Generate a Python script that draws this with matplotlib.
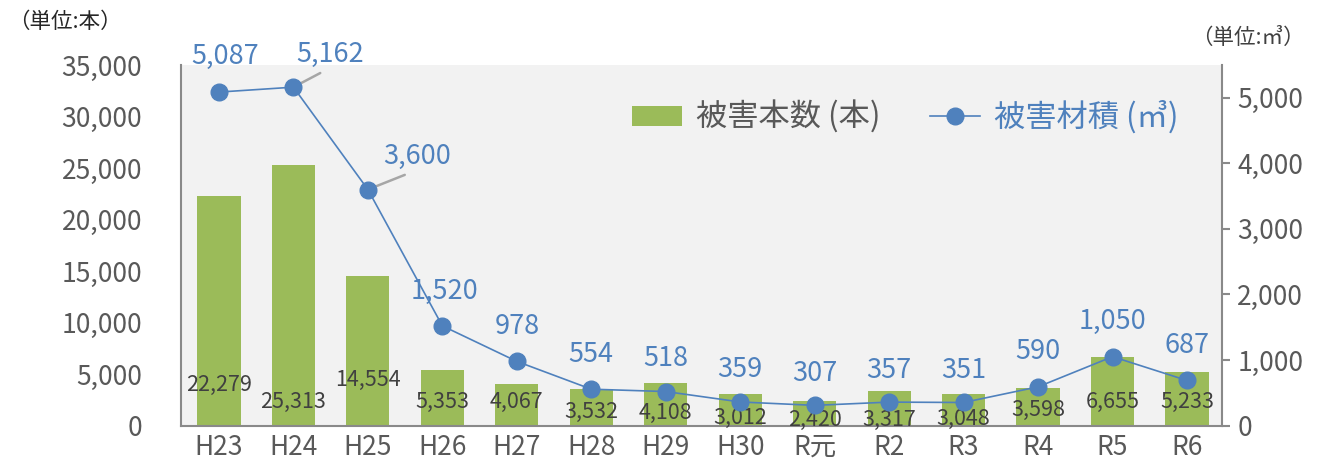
import numpy as np
import matplotlib
matplotlib.use('Agg')
import matplotlib.pyplot as plt
from matplotlib.lines import Line2D
from matplotlib.patches import Patch

plt.rcParams['font.family'] = ['Noto Sans CJK JP', 'DejaVu Sans']

# data
years = ['H23', 'H24', 'H25', 'H26', 'H27', 'H28', 'H29', 'H30', 'R元', 'R2', 'R3', 'R4', 'R5', 'R6']
trees = [22279, 25313, 14554, 5353, 4067, 3532, 4108, 3012, 2420, 3317, 3048, 3598, 6655, 5233]
volume = [5087, 5162, 3600, 1520, 978, 554, 518, 359, 307, 357, 351, 590, 1050, 687]

# label placement (layout only)
tree_label_y = [3950, 2330, 4450, 2330, 2330, 1300, 1250, 780, 580, 580, 620, 1550, 2330, 2330]
vol_label_off = [(6, 36), (37, 33), (49, 33), (2, 34), (0, 35), (0, 35), (0, 33),
                 (0, 32), (0, 32), (0, 32), (0, 32), (0, 35), (0, 35), (0, 35)]

GREEN = '#9bbb59'
BLUE = '#4f81bd'
GRAY_TXT = '#595959'
SPINE = '#898989'

fig = plt.figure(figsize=(13.25, 4.68), dpi=100)
ax = fig.add_axes([181/1325, 1-425.5/468, (1222-181)/1325, (425.5-65)/468])
ax.set_facecolor('#f2f2f2')

x = np.arange(len(years))
ax.bar(x, trees, width=0.58, color=GREEN, zorder=2)
ax.set_xlim(-0.51, 13.47)
ax.set_ylim(0, 35000)
ax.set_yticks(np.arange(0, 35001, 5000))
ax.set_yticklabels([f'{v:,}' for v in range(0, 35001, 5000)])
ax.set_xticks(x)
ax.set_xticklabels(years)
ax.tick_params(axis='y', length=0, pad=28, labelsize=19, labelcolor=GRAY_TXT)
ax.tick_params(axis='x', length=0, pad=6, labelsize=19, labelcolor=GRAY_TXT)
for s in ['top', 'right']:
    ax.spines[s].set_visible(False)
for s in ['left', 'bottom']:
    ax.spines[s].set_color(SPINE)
    ax.spines[s].set_linewidth(1.5)

for i, (v, ly) in enumerate(zip(trees, tree_label_y)):
    ax.text(i, ly, f'{v:,}', ha='center', va='center', fontsize=15.5, color='#404040', zorder=3)

ax2 = ax.twinx()
ax2.set_ylim(0, 5500)
ax2.set_yticks(np.arange(0, 5001, 1000))
ax2.set_yticklabels([f'{v:,}' for v in range(0, 5001, 1000)])
ax2.tick_params(axis='y', length=6, width=1.5, color=SPINE, pad=5, labelsize=19, labelcolor=GRAY_TXT)
for s in ['top', 'left', 'bottom']:
    ax2.spines[s].set_visible(False)
ax2.spines['right'].set_color(SPINE)
ax2.spines['right'].set_linewidth(1.5)

ax2.plot(x, volume, color=BLUE, lw=1.2, marker='o', markersize=12, zorder=4)

for i, (v, off) in enumerate(zip(volume, vol_label_off)):
    if i in (1, 2):
        ax2.annotate(f'{v:,}', xy=(i, v), xytext=off, textcoords='offset pixels',
                     ha='center', va='center', fontsize=19.5, color=BLUE,
                     arrowprops=dict(arrowstyle='-', color='#a6a6a6', lw=1.8,
                                     relpos=(0.5, 0), shrinkA=4, shrinkB=0))
    else:
        ax2.annotate(f'{v:,}', xy=(i, v), xytext=off, textcoords='offset pixels',
                     ha='center', va='center', fontsize=19.5, color=BLUE)

handles = [Patch(facecolor=GREEN, edgecolor='none'),
           Line2D([], [], color=BLUE, lw=1.2, marker='o', markersize=12)]
leg = ax2.legend(handles, ['被害本数 (本)', '被害材積 (㎥)'], loc='upper left',
                 bbox_to_anchor=(0.406, 0.98), ncol=2, frameon=False, fontsize=22.5,
                 handlelength=1.6, handleheight=0.6, handletextpad=0.45, columnspacing=1.6)
leg.get_texts()[0].set_color(GRAY_TXT)
leg.get_texts()[1].set_color(BLUE)

fig.text(8/1325, 1-22/468, '（単位:本）', ha='left', va='center', fontsize=15.5, color='#262626')
fig.text(1305/1325, 1-38/468, '（単位:㎥）', ha='right', va='center', fontsize=15.5, color='#404040')

fig.savefig('out.png', dpi=100)
